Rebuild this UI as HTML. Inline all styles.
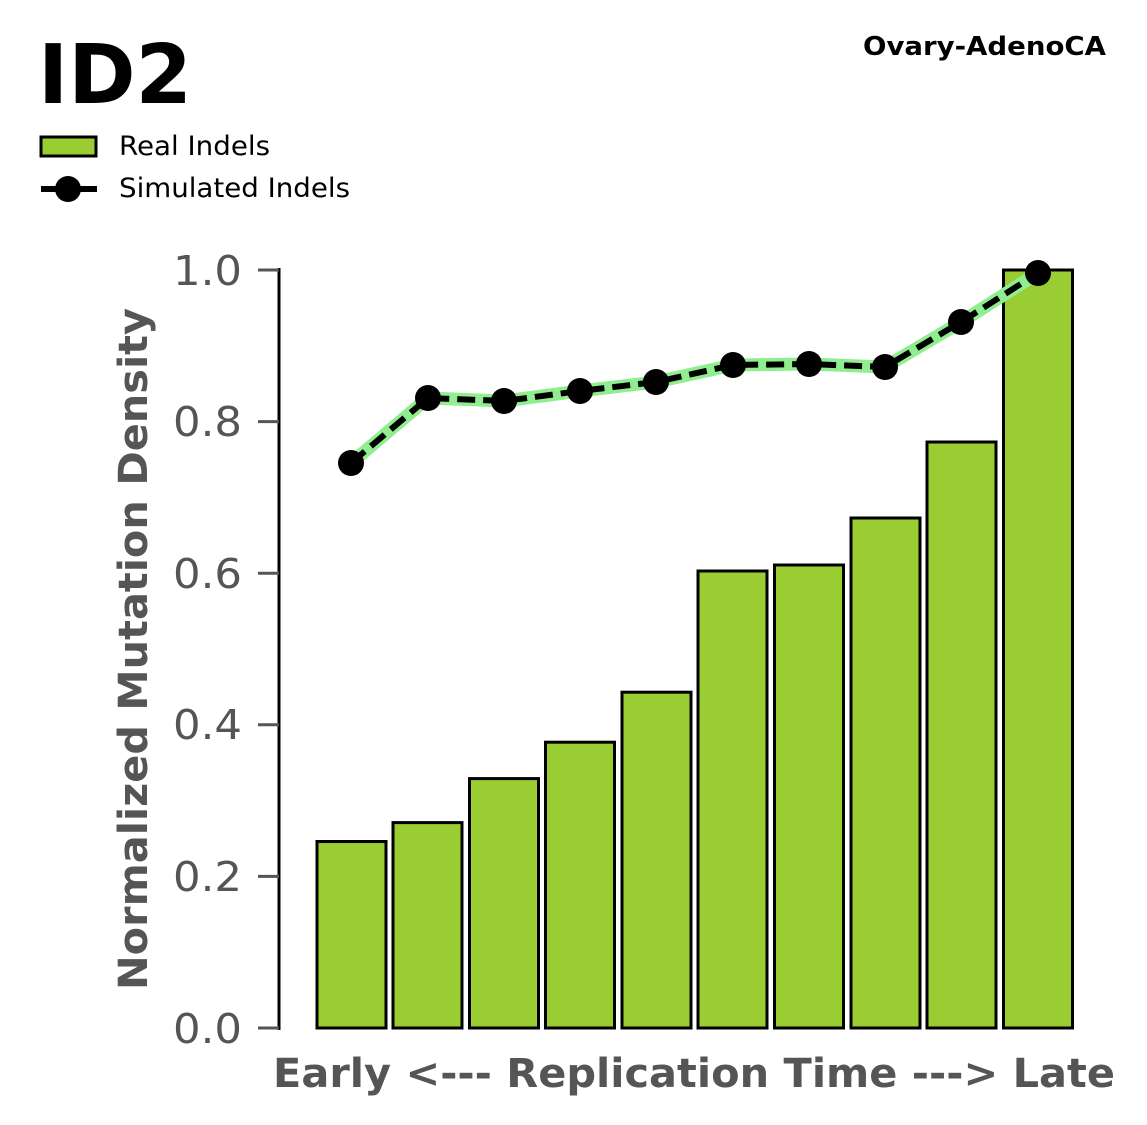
<!DOCTYPE html>
<html><head><style>body{margin:0;background:#fff}svg{display:block}</style></head><body>
<svg width="1147" height="1125" xmlns="http://www.w3.org/2000/svg" font-family="DejaVu Sans, Liberation Sans, sans-serif">
<rect width="1147" height="1125" fill="#fff"/>
<text x="38" y="103" font-size="82" font-weight="bold" fill="#000" textLength="154" lengthAdjust="spacingAndGlyphs">ID2</text>
<text x="863" y="55" font-size="26" font-weight="bold" fill="#000" textLength="243" lengthAdjust="spacingAndGlyphs">Ovary-AdenoCA</text>
<rect x="41" y="137" width="55" height="19" fill="#9acd32" stroke="#000" stroke-width="3"/>
<text x="119" y="155" font-size="27" fill="#000" textLength="151" lengthAdjust="spacingAndGlyphs">Real Indels</text>
<line x1="41" y1="189" x2="97" y2="189" stroke="#000" stroke-width="6"/>
<circle cx="68" cy="189" r="13" fill="#000"/>
<text x="119" y="197" font-size="27" fill="#000" textLength="231" lengthAdjust="spacingAndGlyphs">Simulated Indels</text>
<g stroke="#000" stroke-width="3" fill="#9acd32">
<rect x="317" y="841.5" width="69" height="186.5"/>
<rect x="393" y="822.6" width="69" height="205.4"/>
<rect x="469.5" y="778.6" width="69" height="249.4"/>
<rect x="545.5" y="742.2" width="69" height="285.8"/>
<rect x="622" y="692.2" width="69" height="335.8"/>
<rect x="698" y="571" width="69" height="457"/>
<rect x="774.5" y="565" width="69" height="463"/>
<rect x="851" y="518" width="69" height="510"/>
<rect x="927" y="442" width="69" height="586"/>
<rect x="1003.5" y="270" width="69" height="758"/>
</g>
<line x1="279" y1="268" x2="279" y2="1030" stroke="#000" stroke-width="3"/>
<g stroke="#555" stroke-width="3">
<line x1="258" y1="270" x2="279" y2="270"/><line x1="258" y1="421.6" x2="279" y2="421.6"/>
<line x1="258" y1="573.2" x2="279" y2="573.2"/><line x1="258" y1="724.8" x2="279" y2="724.8"/>
<line x1="258" y1="876.4" x2="279" y2="876.4"/><line x1="258" y1="1028" x2="279" y2="1028"/>
</g>
<g font-size="41" fill="#555">
<text x="173" y="285" textLength="69" lengthAdjust="spacingAndGlyphs">1.0</text>
<text x="173" y="436" textLength="69" lengthAdjust="spacingAndGlyphs">0.8</text>
<text x="173" y="588" textLength="69" lengthAdjust="spacingAndGlyphs">0.6</text>
<text x="173" y="739" textLength="69" lengthAdjust="spacingAndGlyphs">0.4</text>
<text x="173" y="891" textLength="69" lengthAdjust="spacingAndGlyphs">0.2</text>
<text x="173" y="1043" textLength="69" lengthAdjust="spacingAndGlyphs">0.0</text>
</g>
<text transform="translate(147,990) rotate(-90)" font-size="40" font-weight="bold" fill="#555" textLength="682" lengthAdjust="spacingAndGlyphs">Normalized Mutation Density</text>
<text x="273" y="1087" font-size="40" font-weight="bold" fill="#555" textLength="842" lengthAdjust="spacingAndGlyphs">Early &lt;--- Replication Time ---&gt; Late</text>
<polyline points="351,463 428,398 504,401 580,391 656,382 733,365 809,364 885,367 961,322 1038,273" fill="none" stroke="#90ee90" stroke-width="13" stroke-linejoin="round"/>
<polyline points="351,463 428,398 504,401 580,391 656,382 733,365 809,364 885,367 961,322 1038,273" fill="none" stroke="#000" stroke-width="6" stroke-dasharray="18 8"/>
<g fill="#000">
<circle cx="351" cy="463" r="13"/><circle cx="428" cy="398" r="13"/><circle cx="504" cy="401" r="13"/>
<circle cx="580" cy="391" r="13"/><circle cx="656" cy="382" r="13"/><circle cx="733" cy="365" r="13"/>
<circle cx="809" cy="364" r="13"/><circle cx="885" cy="367" r="13"/><circle cx="961" cy="322" r="13"/>
<circle cx="1038" cy="273" r="13"/>
</g>
</svg>
</body></html>
